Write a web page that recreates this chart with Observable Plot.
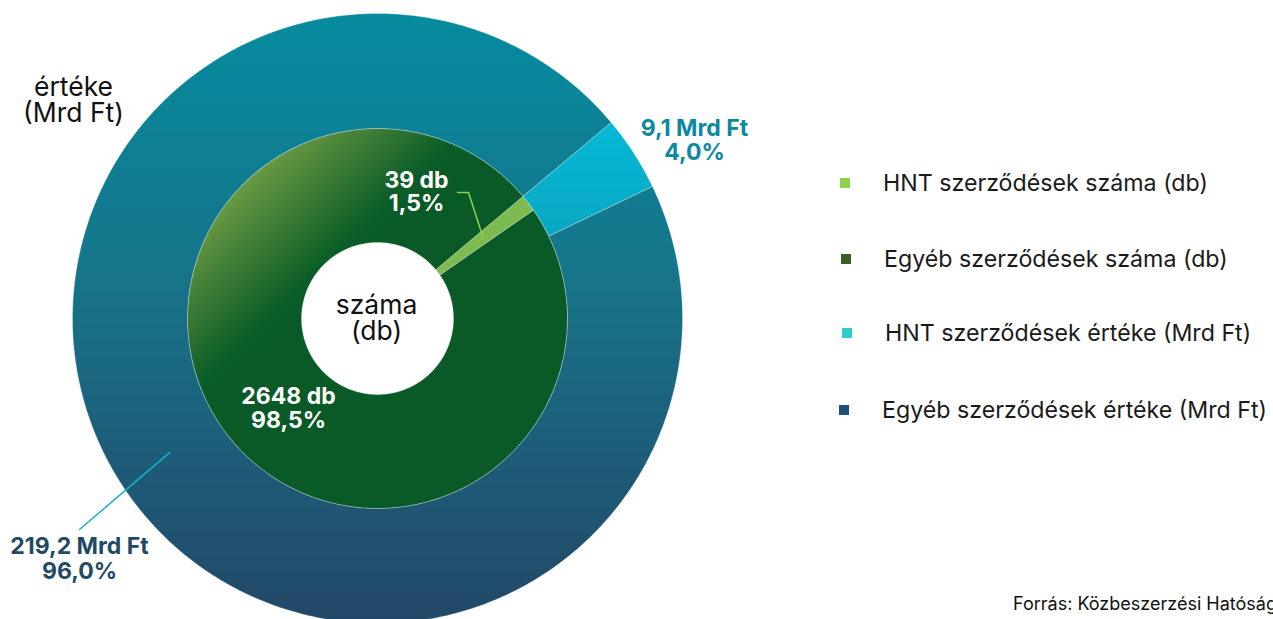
<!DOCTYPE html>
<html><head><meta charset="utf-8">
<script src="https://cdn.jsdelivr.net/npm/d3@7"></script>
<script src="https://cdn.jsdelivr.net/npm/@observablehq/plot@0.6"></script>
<style>
html,body{margin:0;padding:0;background:#fff;overflow:hidden;}
#wrap{position:relative;width:1273px;height:619px;overflow:hidden;font-family:Inter,"Noto Sans",sans-serif;}
#chart{position:absolute;left:0;top:0;}
#legend{position:absolute;left:840px;top:0;}
.row{position:absolute;left:0;display:flex;align-items:center;white-space:nowrap;font-size:23.2px;color:#1a1a1a;transform:translateY(-50%);}
.sw{width:10px;height:10px;margin-right:33px;flex:none;}
#source{position:absolute;left:1013px;top:593px;font-size:18px;white-space:nowrap;color:#111;}
</style></head><body>
<div id="wrap"><div id="chart"></div><div id="legend"></div><div id="source">Forrás: Közbeszerzési Hatóság</div></div>
<script>
// ---------- data ----------
const ringTitles = ["száma\n(db)", "értéke\n(Mrd Ft)"];
const countCategories = ["HNT szerződések száma (db)", "Egyéb szerződések száma (db)"];
const countValues = [39, 2648];
const countLabels = ["39 db\n1,5%", "2648 db\n98,5%"];
const valueCategories = ["HNT szerződések értéke (Mrd Ft)", "Egyéb szerződések értéke (Mrd Ft)"];
const valueValues = [9.1, 219.2];
const valueLabels = ["9,1 Mrd Ft\n4,0%", "219,2 Mrd Ft\n96,0%"];
const legendItems = [countCategories[0], countCategories[1], valueCategories[0], valueCategories[1]];

// ---------- layout / style ----------
const W = 760, H = 619, CX = 377, CY = 318;
const START = 50; // degrees, clockwise from north
const innerRing = {r0: 76, r1: 190};
const outerRing = {r0: 190, r1: 305};
const sliceFill = {
  [countCategories[0]]: "#7dba50",
  [countCategories[1]]: "url(#gGreen)",
  [valueCategories[0]]: "url(#gCyan)",
  [valueCategories[1]]: "url(#gTeal)"
};
const legendColors = ["#8fd14f", "#3b5e22", "#33cccc", "#1e4e79"];
const legendRowY = [183, 259, 333, 410];
const legendIndent = [0, 1, 2, -1];

function makeSlices(values, cats, ring) {
  const total = d3.sum(values);
  let a = START;
  return values.map((v, i) => {
    const a0 = a, a1 = a + v / total * 360; a = a1;
    return {cat: cats[i], a0, a1, r0: ring.r0, r1: ring.r1};
  });
}
function polygon(s) {
  const pts = [];
  const n = Math.max(2, Math.ceil((s.a1 - s.a0) / 0.5));
  for (let k = 0; k <= n; k++) {
    const t = (s.a0 + (s.a1 - s.a0) * k / n) * Math.PI / 180;
    pts.push({x: s.r1 * Math.sin(t), y: s.r1 * Math.cos(t)});
  }
  for (let k = n; k >= 0; k--) {
    const t = (s.a0 + (s.a1 - s.a0) * k / n) * Math.PI / 180;
    pts.push({x: s.r0 * Math.sin(t), y: s.r0 * Math.cos(t)});
  }
  pts.push(pts[0]);
  return pts;
}
function centroid(s) {
  const t = (s.a0 + s.a1) / 2 * Math.PI / 180, r = (s.r0 + s.r1) / 2;
  return {x: r * Math.sin(t), y: r * Math.cos(t)};
}
const px = (x, y) => ({x: x - CX, y: CY - y}); // pixel -> data units

const inner = makeSlices(countValues, countCategories, innerRing);
const outer = makeSlices(valueValues, valueCategories, outerRing);

const sliceMarks = [...inner, ...outer].map(s =>
  Plot.line(polygon(s), {x: "x", y: "y", fill: sliceFill[s.cat], stroke: "#ffffff", strokeOpacity: 0.35, strokeWidth: 0.8, curve: "linear"})
);

// label anchors (pixel layout)
const labelPos = {
  countHNT: px(416, 191.5), countOther: px(288, 408),
  valueHNT: px(694, 140), valueOther: px(79, 558),
  ringCount: px(376, 318), ringValue: px(73, 100)
};
const leaderHNT = [px(457, 192), px(468, 192), centroid(inner[0])];
const leaderOther = [px(79, 529), centroid(outer[1])];

const txt = (pos, text, opts) => Plot.text([pos], {x: "x", y: "y", text: () => text, fontFamily: "Inter, sans-serif", ...opts});

const svg = Plot.plot({
  width: W, height: H, margin: 0,
  x: {domain: [-CX, W - CX], axis: null},
  y: {domain: [CY - H, CY], axis: null},
  style: {fontFamily: "Inter, sans-serif", background: "transparent", overflow: "visible"},
  marks: [
    ...sliceMarks,
    Plot.line(leaderHNT, {x: "x", y: "y", stroke: "#8dcf4f", strokeWidth: 1.5}),
    Plot.line(leaderOther, {x: "x", y: "y", stroke: "#12b3cb", strokeWidth: 1.5}),
    txt(labelPos.ringCount, ringTitles[0], {fontSize: 26.5, lineHeight: 1.0, fill: "#111"}),
    txt(labelPos.ringValue, ringTitles[1], {fontSize: 26.5, lineHeight: 1.0, fill: "#111"}),
    txt(labelPos.countHNT, countLabels[0], {fontSize: 23, lineHeight: 1.02, fontWeight: 700, fill: "#ffffff"}),
    txt(labelPos.countOther, countLabels[1], {fontSize: 23, lineHeight: 1.02, fontWeight: 700, fill: "#ffffff"}),
    txt(labelPos.valueHNT, valueLabels[0], {fontSize: 23, lineHeight: 1.02, fontWeight: 700, fill: "#0a8aa2"}),
    txt(labelPos.valueOther, valueLabels[1], {fontSize: 23, lineHeight: 1.08, fontWeight: 700, fill: "#1f4a66"})
  ]
});
d3.select(svg).insert("defs", ":first-child").html(`
  <linearGradient id="gTeal" gradientUnits="userSpaceOnUse" x1="0" y1="13" x2="0" y2="623">
    <stop offset="0" stop-color="#068b9f"/>
    <stop offset="0.45" stop-color="#177388"/>
    <stop offset="0.75" stop-color="#1e5a77"/>
    <stop offset="1" stop-color="#224866"/>
  </linearGradient>
  <linearGradient id="gCyan" gradientUnits="userSpaceOnUse" x1="0" y1="120" x2="0" y2="240">
    <stop offset="0" stop-color="#04bad5"/>
    <stop offset="1" stop-color="#0aa6c2"/>
  </linearGradient>
  <linearGradient id="gGreen" gradientUnits="userSpaceOnUse" x1="215" y1="165" x2="335" y2="290">
    <stop offset="0" stop-color="#86ab4d"/>
    <stop offset="0.4" stop-color="#4a8539"/>
    <stop offset="0.85" stop-color="#0a5c28"/>
    <stop offset="1" stop-color="#095a27"/>
  </linearGradient>`);
document.getElementById("chart").appendChild(svg);

const legend = document.getElementById("legend");
legendItems.forEach((name, i) => {
  const row = document.createElement("div");
  row.className = "row";
  row.style.top = legendRowY[i] + "px";
  row.style.left = legendIndent[i] + "px";
  const sw = document.createElement("span");
  sw.className = "sw";
  sw.style.background = legendColors[i];
  const label = document.createElement("span");
  label.textContent = name;
  row.appendChild(sw); row.appendChild(label);
  legend.appendChild(row);
});
</script></body></html>
